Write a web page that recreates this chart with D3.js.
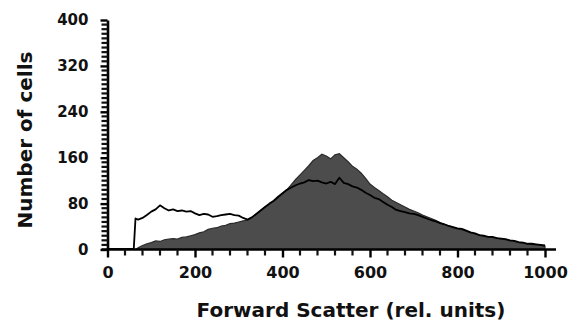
<!DOCTYPE html>
<html><head><meta charset="utf-8">
<script src="https://cdn.jsdelivr.net/npm/d3@7"></script>
<style>body{margin:0;background:#fff}svg{display:block}</style>
</head><body>
<svg id="c" width="570" height="326"></svg>
<script>
const channels = [0,10,20,30,40,50,60,64,70,80,90,100,110,120,130,140,150,160,170,180,190,200,210,220,230,240,250,260,270,280,290,300,310,320,330,340,350,360,370,380,390,400,410,420,430,440,450,460,470,480,490,500,510,520,530,540,550,560,570,580,590,600,610,620,630,640,650,660,670,680,690,700,710,720,730,740,750,760,770,780,790,800,810,820,830,840,850,860,870,880,890,900,910,920,930,940,950,960,970,980,990,1000];
const filledCounts = [0,0,0,0,0,0,0,0,3,7,10,12,15,14,17,18,19,18,21,22,24,26,29,31,35,37,38,41,42,45,46,48,50,51,56,62,68,74,79,84,90,97,104,113,122,130,138,146,155,160,166,163,158,165,167,160,153,145,140,133,124,114,108,103,97,92,86,82,78,74,70,67,64,60,57,54,51,47,44,41,38,36,34,32,29,27,25,23,22,21,20,18,17,15,14,12,11,10,9,8,7,6];
const lineCounts = [1,1,1,1,1,1,1,54,52,55,60,66,70,77,72,68,70,67,68,66,67,63,60,62,61,57,58,60,61,62,60,59,55,52,56,62,68,74,80,85,92,98,104,108,112,115,117,121,119,120,117,115,118,114,125,116,114,110,108,104,99,95,90,88,83,78,74,69,67,65,63,62,60,57,54,51,49,46,44,41,39,37,36,33,30,28,25,24,22,22,20,19,18,16,15,13,12,10,10,9,8,7];
const yTicks = [0,80,160,240,320,400];
const xTicks = [0,200,400,600,800,1000];
const yMinor = [8,16,24,32,40,48,56,64,72,88,96,104,112,120,128,136,144,152,168,176,184,192,200,208,216,224,232,248,256,264,272,280,288,296,304,312,328,336,344,352,360,368,376,384,392];
const xMinor = [40,80,120,160,240,280,320,360,440,480,520,560,640,680,720,760,840,880,920,960];
const xTitle = "Forward Scatter (rel. units)";
const yTitle = "Number of cells";

const svg = d3.select("#c");
const x = d3.scaleLinear().domain([0,1000]).range([107.5,545]);
const y = d3.scaleLinear().domain([0,400]).range([249.5,20]);
const font = "'DejaVu Sans', sans-serif";

const data = channels.map((c,i)=>({c, f:filledCounts[i], l:lineCounts[i]}));

svg.append("path").datum(data)
  .attr("d", d3.area().x(d=>x(d.c)).y0(y(0)).y1(d=>y(d.f)))
  .attr("fill","#4c4c4c").attr("stroke","#2b2b2b").attr("stroke-width",1.2);

svg.append("path").datum(data)
  .attr("d", d3.line().x(d=>x(d.c)).y(d=>y(d.l)))
  .attr("fill","none").attr("stroke","#000").attr("stroke-width",1.8).attr("stroke-linejoin","round");

// y axis major
const gy = svg.append("g").attr("transform",`translate(${x(0)},0)`)
  .call(d3.axisLeft(y).tickValues(yTicks).tickSize(7).tickPadding(12).tickSizeOuter(0).tickFormat(d3.format("d")));
gy.select(".domain").attr("stroke","#000").attr("stroke-width",2.6);
gy.selectAll("line").attr("stroke","#000").attr("stroke-width",2.4);
gy.selectAll("text").attr("font-family",font).attr("font-weight","bold").attr("font-size",15).attr("fill","#111");

// x axis major
const gx = svg.append("g").attr("transform",`translate(0,${y(0)})`)
  .call(d3.axisBottom(x).tickValues(xTicks).tickSize(8).tickPadding(9).tickSizeOuter(0).tickFormat(d3.format("d")));
gx.select(".domain").attr("d",`M${x(0)-6},0H${x(1000)+11}`).attr("stroke","#000").attr("stroke-width",2.6);
gx.selectAll("line").attr("stroke","#000").attr("stroke-width",2.4);
gx.selectAll("text").attr("font-family",font).attr("font-weight","bold").attr("font-size",16).attr("fill","#111");

// minor ticks
svg.append("g").attr("class","yminor").selectAll("line").data(yMinor).join("line")
  .attr("x1",x(0)).attr("x2",x(0)-6).attr("y1",d=>y(d)).attr("y2",d=>y(d))
  .attr("stroke","#111").attr("stroke-width",2.2);
svg.append("g").attr("class","xminor").selectAll("line").data(xMinor).join("line")
  .attr("y1",y(0)).attr("y2",y(0)+6).attr("x1",d=>x(d)).attr("x2",d=>x(d))
  .attr("stroke","#111").attr("stroke-width",2.2);

svg.append("text").attr("x",351).attr("y",317).attr("text-anchor","middle")
  .attr("font-family",font).attr("font-weight","bold").attr("font-size",20).attr("fill","#111")
  .text(xTitle);
svg.append("text").attr("transform","translate(32,140) rotate(-90)").attr("text-anchor","middle")
  .attr("font-family",font).attr("font-weight","bold").attr("font-size",20).attr("fill","#111")
  .text(yTitle);
</script>
</body></html>
